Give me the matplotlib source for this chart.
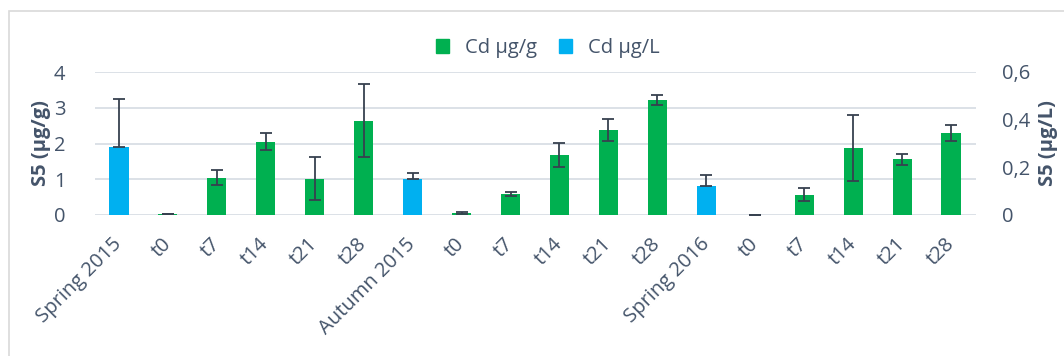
import matplotlib
matplotlib.use("Agg")
import matplotlib.pyplot as plt
import numpy as np
from matplotlib.patches import Rectangle, Patch

categories = ["Spring 2015", "t0", "t7", "t14", "t21", "t28",
              "Autumn 2015", "t0", "t7", "t14", "t21", "t28",
              "Spring 2016", "t0", "t7", "t14", "t21", "t28"]

# Cd µg/g (left axis); None where the blue series sits
cd_g = [None, 0.02, 1.04, 2.05, 1.01, 2.64,
        None, 0.065, 0.59, 1.68, 2.38, 3.22,
        None, 0.01, 0.57, 1.88, 1.56, 2.29]
cd_g_err = [None, 0.0, 0.21, 0.23, 0.60, 1.02,
            None, 0.03, 0.06, 0.33, 0.31, 0.14,
            None, 0.0, 0.19, 0.92, 0.16, 0.22]

# Cd µg/L (right axis)
blue_idx = [0, 6, 12]
cd_l = [0.284, 0.150, 0.122]
cd_l_err = [0.202, 0.025, 0.046]

left_ticks = [0, 1, 2, 3, 4]
right_ticks = [0, 0.2, 0.4, 0.6]
right_ticklabels = ["0", "0,2", "0,4", "0,6"]

GREEN = "#00B050"
BLUE = "#00B0F0"
TXT = "#44546A"
ERR = "#37414F"
GRID = "#D9DEE5"

plt.rcParams['font.family'] = ['Open Sans', 'DejaVu Sans']
FS = 14.5

W, H = 1064, 356
fig = plt.figure(figsize=(W / 100, H / 100), dpi=100)
ax = fig.add_axes([94.5 / W, 1 - 215 / H, (975.5 - 94.5) / W, (215 - 72) / H])
ax2 = ax.twinx()

x = np.arange(len(categories))
gi = [i for i, v in enumerate(cd_g) if v is not None]
gv = [cd_g[i] for i in gi]
ge = [cd_g_err[i] for i in gi]

bw = 0.39
ax.bar(gi, gv, width=bw, color=GREEN, zorder=2)
ax.errorbar(gi, gv, yerr=ge, fmt='none', ecolor=ERR, elinewidth=1.3,
            capsize=4, capthick=1.3, zorder=3)

ax2.bar(blue_idx, cd_l, width=bw, color=BLUE, zorder=2)
ax2.errorbar(blue_idx, cd_l, yerr=[np.zeros(len(cd_l)), cd_l_err], fmt='none',
             ecolor=ERR, elinewidth=1.3, capsize=4, capthick=1.3, zorder=3)

ax.set_xlim(-0.5, len(categories) - 0.5)
ax.set_ylim(0, 4)
ax2.set_ylim(0, 0.6)
ax.set_yticks(left_ticks)
ax.set_yticklabels([str(t) for t in left_ticks])
ax2.set_yticks(right_ticks)
ax2.set_yticklabels(right_ticklabels)

for t in left_ticks:
    ax.axhline(t, color=GRID, lw=1.3, zorder=0)

for a in (ax, ax2):
    for s in a.spines.values():
        s.set_visible(False)
    a.tick_params(axis='both', length=0, labelsize=FS, colors=TXT)

ax.tick_params(axis='y', pad=21)
ax2.tick_params(axis='y', pad=19)

ax.set_xticks(x)
ax.set_xticklabels(categories, rotation=45, ha='right', rotation_mode='anchor',
                   va='center')
ax.tick_params(axis='x', pad=19)

ax.set_ylabel("S5 (µg/g)", fontsize=FS, fontweight='bold', color=TXT, labelpad=2)
ax2.set_ylabel("S5 (µg/L)", fontsize=FS, fontweight='bold', color=TXT,
               rotation=90, labelpad=6)

handles = [Patch(color=GREEN, label="Cd µg/g"), Patch(color=BLUE, label="Cd µg/L")]
fig.legend(handles=handles, loc='center', bbox_to_anchor=(0.515, 1 - 48 / H),
           ncol=2, frameon=False, fontsize=FS, labelcolor=TXT,
           handlelength=0.65, handleheight=0.65, columnspacing=1.1, handletextpad=0.8)

fig.patches.append(Rectangle((9 / W, -0.1), 1.2, (1 - 11 / H) + 0.1,
                             transform=fig.transFigure, fill=False,
                             edgecolor="#D9D9D9", lw=1.2))

fig.savefig("out.png", dpi=100)
